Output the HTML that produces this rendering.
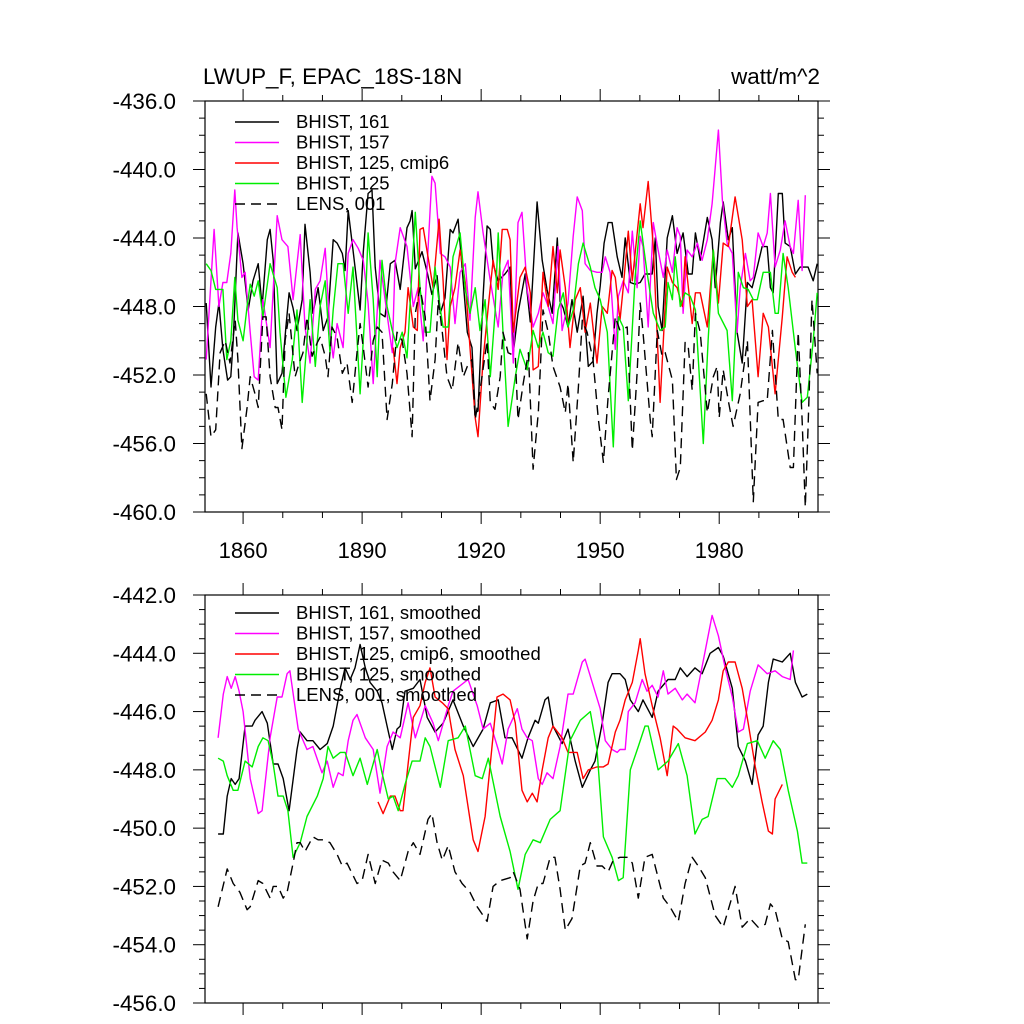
<!DOCTYPE html>
<html><head><meta charset="utf-8"><style>
body{margin:0;background:#fff}
svg{display:block;font-family:"Liberation Sans",sans-serif}
</style></head><body>
<svg id="chart" width="1024" height="1024" viewBox="0 0 1024 1024" xmlns="http://www.w3.org/2000/svg">
<text x="203" y="84" font-size="22.4">LWUP_F, EPAC_18S-18N</text>
<text x="820" y="84" font-size="22.4" text-anchor="end">watt/m^2</text>
<g id="p1"></g>
<g id="p2"></g>
</svg>
<script>
const xTickYears=[1860,1890,1920,1950,1980];
const topYTicks=[-436,-440,-444,-448,-452,-456,-460];
const botYTicks=[-442,-444,-446,-448,-450,-452,-454,-456];
const topLegend=["BHIST, 161","BHIST, 157","BHIST, 125, cmip6","BHIST, 125","LENS, 001"];
const botLegend=["BHIST, 161, smoothed","BHIST, 157, smoothed","BHIST, 125, cmip6, smoothed","BHIST, 125, smoothed","LENS, 001, smoothed"];
const blkTop=[[1850.7,-447.8],[1851.9,-452.7],[1853.1,-449.2],[1853.9,-447.8],[1854.9,-450.5],[1856.1,-452.3],[1856.9,-452.1],[1857.5,-450.0],[1858.7,-443.7],[1860.0,-445.5],[1861.3,-448.2],[1862.5,-446.5],[1863.8,-445.5],[1864.8,-448.0],[1866.1,-444.1],[1866.8,-443.5],[1867.6,-445.3],[1868.6,-452.5],[1869.8,-451.9],[1870.8,-449.2],[1871.6,-447.2],[1872.6,-448.1],[1873.6,-449.4],[1874.9,-447.6],[1875.6,-443.2],[1876.9,-446.0],[1877.6,-448.4],[1878.9,-446.9],[1880.2,-449.4],[1881.4,-448.6],[1882.7,-444.1],[1883.7,-444.3],[1885.0,-444.9],[1885.7,-445.9],[1886.5,-442.4],[1887.7,-444.7],[1889.5,-448.2],[1890.3,-444.8],[1891.5,-441.4],[1892.5,-441.2],[1893.3,-445.7],[1894.5,-448.4],[1895.8,-448.6],[1897.1,-445.5],[1898.3,-445.3],[1899.6,-447.0],[1901.3,-443.4],[1902.1,-443.0],[1902.6,-442.4],[1903.4,-445.8],[1905.1,-444.8],[1906.4,-446.0],[1907.6,-447.3],[1908.9,-446.2],[1909.7,-448.4],[1910.9,-447.5],[1912.2,-443.5],[1912.9,-443.7],[1914.2,-442.9],[1915.5,-446.6],[1916.5,-449.5],[1917.7,-450.4],[1918.5,-454.2],[1919.2,-454.1],[1920.5,-447.4],[1921.5,-443.3],[1922.3,-443.5],[1923.0,-445.5],[1924.3,-446.5],[1926.0,-446.1],[1927.3,-445.7],[1928.1,-450.7],[1929.3,-448.4],[1931.1,-446.1],[1932.4,-448.9],[1934.1,-441.9],[1935.4,-445.3],[1936.6,-447.0],[1937.9,-448.4],[1939.2,-444.0],[1939.9,-447.7],[1940.7,-448.1],[1941.9,-449.2],[1942.9,-447.6],[1944.2,-449.5],[1945.7,-447.4],[1947.0,-451.5],[1948.2,-451.2],[1949.2,-448.4],[1950.0,-446.8],[1951.0,-444.3],[1952.0,-443.1],[1953.0,-443.1],[1954.3,-445.1],[1955.5,-446.3],[1956.3,-444.0],[1957.6,-446.6],[1958.8,-446.7],[1960.1,-446.6],[1961.3,-446.1],[1963.1,-446.1],[1963.9,-444.0],[1964.6,-448.0],[1965.6,-449.4],[1966.9,-444.0],[1968.2,-442.7],[1969.4,-444.9],[1970.9,-443.7],[1972.2,-446.1],[1973.2,-446.1],[1974.0,-443.7],[1975.2,-445.3],[1977.0,-442.8],[1978.2,-444.1],[1979.0,-446.9],[1980.3,-443.1],[1981.0,-441.9],[1982.3,-444.1],[1983.3,-443.4],[1984.5,-449.5],[1985.8,-451.3],[1987.1,-446.6],[1988.3,-446.9],[1989.6,-445.7],[1990.8,-444.5],[1992.1,-444.5],[1992.9,-446.9],[1993.6,-447.2],[1994.9,-441.4],[1995.9,-441.4],[1996.6,-444.3],[1997.9,-444.5],[1999.2,-446.1],[2000.4,-445.7],[2002.4,-445.7],[2003.7,-446.5],[2004.7,-445.5]];
const magTop=[[1850.7,-451.1],[1852.7,-443.5],[1853.9,-448.0],[1854.9,-446.6],[1855.9,-446.6],[1856.9,-444.9],[1857.9,-441.2],[1858.5,-443.4],[1859.7,-446.3],[1860.5,-446.0],[1861.8,-449.5],[1862.8,-452.1],[1863.8,-452.3],[1865.0,-447.6],[1866.8,-450.4],[1868.6,-442.7],[1869.8,-444.1],[1871.3,-444.5],[1872.6,-447.6],[1874.4,-443.8],[1875.6,-449.2],[1876.9,-451.3],[1878.2,-447.0],[1879.4,-446.5],[1880.7,-444.6],[1881.9,-449.5],[1882.7,-451.0],[1883.7,-449.0],[1885.2,-450.4],[1886.5,-444.9],[1887.7,-444.1],[1889.0,-444.6],[1890.3,-445.3],[1891.5,-447.8],[1892.8,-452.5],[1894.5,-445.3],[1895.8,-447.6],[1897.6,-450.7],[1898.3,-445.5],[1899.6,-443.4],[1901.3,-444.5],[1902.9,-448.0],[1904.1,-446.9],[1905.4,-450.0],[1907.6,-440.4],[1908.4,-440.8],[1909.7,-444.9],[1910.9,-445.1],[1912.2,-445.7],[1913.4,-449.0],[1914.7,-446.0],[1916.0,-445.5],[1917.2,-448.8],[1918.5,-442.8],[1919.2,-441.3],[1920.5,-443.7],[1922.3,-446.5],[1924.3,-449.2],[1925.5,-446.0],[1926.8,-445.3],[1928.1,-451.3],[1929.3,-443.1],[1930.3,-442.5],[1931.6,-447.0],[1933.1,-449.2],[1934.4,-448.4],[1935.6,-447.2],[1936.9,-448.0],[1938.1,-449.0],[1939.4,-444.5],[1940.4,-449.4],[1941.9,-447.8],[1943.2,-443.9],[1944.2,-441.6],[1945.5,-442.4],[1946.2,-445.5],[1947.5,-445.9],[1949.2,-446.0],[1950.5,-446.0],[1951.3,-445.1],[1952.5,-446.0],[1953.8,-450.5],[1954.6,-447.4],[1955.8,-446.5],[1957.1,-447.2],[1958.1,-443.6],[1959.3,-446.9],[1960.1,-443.9],[1960.8,-444.5],[1962.1,-449.2],[1963.4,-443.1],[1964.6,-444.7],[1965.9,-446.3],[1966.9,-444.7],[1968.2,-446.0],[1969.4,-443.4],[1970.2,-443.9],[1970.9,-448.4],[1971.9,-444.7],[1973.2,-445.1],[1974.5,-444.3],[1975.7,-445.3],[1977.0,-444.1],[1978.2,-442.0],[1979.0,-439.9],[1979.8,-437.7],[1980.8,-441.8],[1982.0,-444.3],[1983.3,-444.9],[1984.5,-449.5],[1985.3,-446.9],[1986.6,-444.9],[1987.8,-446.5],[1988.6,-446.3],[1989.8,-443.7],[1991.1,-444.5],[1992.1,-443.7],[1992.9,-441.4],[1994.1,-445.7],[1995.4,-444.7],[1996.6,-443.0],[1997.9,-444.5],[1998.7,-444.9],[1999.9,-441.8],[2000.9,-445.9],[2001.7,-441.5]];
const redTop=[[1897.8,-450.4],[1898.8,-452.5],[1899.6,-450.4],[1900.8,-449.5],[1901.6,-446.9],[1902.9,-449.2],[1903.9,-449.4],[1904.6,-443.5],[1905.4,-443.4],[1906.6,-445.1],[1907.9,-446.9],[1909.4,-442.9],[1910.4,-446.5],[1911.4,-451.1],[1912.2,-448.0],[1913.4,-446.9],[1914.7,-444.7],[1916.0,-446.6],[1917.2,-450.4],[1918.5,-454.5],[1919.2,-455.6],[1920.5,-451.1],[1921.8,-448.0],[1923.0,-445.3],[1924.3,-447.0],[1925.3,-443.5],[1926.6,-443.5],[1927.3,-444.1],[1928.1,-449.5],[1929.8,-446.3],[1931.1,-445.7],[1932.4,-447.2],[1933.1,-451.7],[1934.4,-451.5],[1935.6,-446.0],[1936.9,-448.0],[1938.1,-444.5],[1939.2,-447.2],[1939.9,-444.7],[1941.2,-446.9],[1942.4,-450.4],[1943.7,-447.6],[1945.0,-446.9],[1946.2,-449.5],[1947.5,-447.8],[1949.2,-451.3],[1950.5,-448.0],[1951.8,-448.4],[1953.0,-445.9],[1953.8,-446.3],[1955.0,-448.8],[1955.8,-446.9],[1957.1,-443.6],[1958.1,-446.5],[1960.1,-442.0],[1960.8,-443.4],[1962.1,-440.7],[1963.4,-444.5],[1965.1,-453.6],[1966.9,-445.7],[1968.2,-446.6],[1969.4,-446.9],[1970.7,-448.0],[1971.4,-445.1],[1973.2,-449.0],[1974.0,-447.2],[1975.2,-447.2],[1977.0,-449.2],[1978.5,-444.7],[1979.8,-447.8],[1981.0,-444.3],[1982.3,-444.5],[1984.0,-441.6],[1985.8,-444.1],[1987.1,-448.0],[1988.3,-447.6],[1989.8,-452.1],[1991.1,-448.4],[1992.4,-449.2],[1994.1,-453.1],[1995.9,-448.6],[1997.1,-445.1],[1998.4,-446.0],[1999.2,-446.3]];
const grnTop=[[1850.7,-445.5],[1851.9,-445.9],[1853.1,-447.0],[1854.9,-447.0],[1855.9,-451.1],[1856.9,-450.0],[1857.9,-446.3],[1858.7,-448.8],[1860.0,-450.0],[1861.0,-448.0],[1861.8,-446.7],[1862.8,-447.4],[1863.8,-446.5],[1865.0,-448.6],[1866.8,-445.5],[1868.6,-446.9],[1869.3,-449.5],[1870.8,-453.3],[1872.4,-451.1],[1873.6,-448.2],[1874.9,-453.6],[1876.1,-450.0],[1876.9,-447.6],[1878.2,-451.5],[1879.4,-448.0],[1880.7,-446.5],[1881.9,-450.7],[1882.7,-448.2],[1883.9,-445.5],[1885.2,-445.5],[1886.5,-448.4],[1887.7,-445.7],[1889.5,-453.1],[1890.8,-448.0],[1891.5,-443.7],[1892.8,-447.6],[1893.8,-452.1],[1895.0,-445.3],[1896.3,-448.0],[1897.6,-449.4],[1898.8,-450.4],[1900.1,-449.5],[1901.3,-451.0],[1903.4,-442.5],[1904.6,-446.9],[1905.9,-449.5],[1907.1,-449.5],[1908.4,-445.7],[1909.2,-447.4],[1910.4,-449.2],[1911.7,-449.2],[1912.9,-445.1],[1914.7,-443.7],[1916.0,-447.0],[1917.2,-448.4],[1918.5,-446.9],[1919.7,-449.4],[1921.0,-447.6],[1922.3,-452.1],[1923.5,-448.4],[1924.3,-443.7],[1925.5,-449.5],[1926.8,-455.0],[1928.6,-452.1],[1929.8,-450.5],[1931.6,-451.7],[1933.1,-449.4],[1934.4,-450.4],[1935.6,-449.5],[1936.9,-450.7],[1938.1,-450.9],[1939.4,-448.2],[1940.7,-447.2],[1941.9,-449.2],[1943.2,-448.2],[1944.5,-445.5],[1945.7,-444.3],[1947.5,-445.7],[1948.7,-446.9],[1950.0,-447.6],[1951.8,-449.5],[1953.3,-456.2],[1954.6,-448.6],[1955.8,-449.2],[1957.1,-453.5],[1958.8,-446.3],[1960.1,-443.0],[1961.8,-446.0],[1963.4,-448.4],[1965.1,-449.4],[1966.4,-449.2],[1967.1,-446.6],[1968.2,-447.6],[1968.9,-445.1],[1970.2,-448.0],[1971.4,-447.2],[1972.7,-447.4],[1974.0,-448.2],[1976.0,-456.0],[1977.2,-450.0],[1978.5,-444.7],[1979.8,-448.4],[1982.0,-449.4],[1983.3,-453.5],[1984.8,-446.0],[1986.1,-446.9],[1987.3,-447.0],[1988.6,-447.6],[1989.6,-447.6],[1991.1,-446.0],[1992.9,-446.0],[1994.1,-448.4],[1994.9,-448.4],[1996.1,-444.9],[1997.4,-446.9],[1999.2,-450.5],[2000.9,-453.6],[2002.2,-453.3],[2003.7,-450.0],[2004.7,-447.2]];
const lensTop=[[1850.7,-453.1],[1851.9,-455.6],[1853.1,-455.2],[1854.2,-450.7],[1855.5,-450.0],[1856.7,-451.3],[1858.0,-448.8],[1858.7,-451.1],[1859.7,-456.3],[1861.0,-453.9],[1861.8,-452.1],[1863.0,-453.1],[1863.8,-453.9],[1865.0,-448.6],[1865.8,-448.6],[1866.8,-452.1],[1868.1,-453.9],[1868.8,-453.9],[1869.8,-455.2],[1870.6,-450.0],[1871.6,-448.4],[1873.1,-452.1],[1873.9,-451.5],[1875.1,-450.7],[1876.1,-448.6],[1877.4,-450.9],[1878.7,-450.1],[1879.4,-449.8],[1880.7,-450.9],[1881.4,-452.1],[1882.4,-449.2],[1883.7,-449.8],[1885.0,-451.9],[1886.2,-451.3],[1887.5,-453.6],[1888.7,-450.7],[1889.5,-449.0],[1890.3,-450.4],[1891.5,-452.7],[1892.8,-450.0],[1893.8,-449.2],[1895.0,-449.5],[1896.3,-454.6],[1897.6,-452.5],[1898.8,-449.5],[1900.1,-450.0],[1901.3,-451.9],[1902.6,-455.6],[1903.4,-448.4],[1904.6,-446.9],[1905.9,-448.6],[1907.1,-453.5],[1908.4,-451.1],[1909.2,-447.6],[1910.2,-449.5],[1911.4,-452.1],[1912.7,-452.9],[1914.2,-450.1],[1915.5,-452.1],[1916.5,-451.5],[1917.7,-451.1],[1918.5,-454.6],[1919.7,-452.9],[1921.5,-450.0],[1922.3,-453.6],[1923.5,-454.0],[1924.8,-452.1],[1925.5,-449.5],[1926.8,-450.7],[1928.6,-450.9],[1929.3,-454.6],[1930.6,-452.5],[1931.9,-450.7],[1933.1,-457.5],[1934.4,-454.2],[1935.6,-448.2],[1936.9,-449.5],[1938.1,-451.5],[1939.9,-452.7],[1941.2,-454.2],[1941.9,-452.5],[1943.2,-457.1],[1944.5,-452.7],[1945.5,-448.8],[1946.7,-449.5],[1948.2,-451.1],[1949.5,-454.5],[1950.8,-457.1],[1952.0,-453.3],[1953.8,-448.6],[1955.0,-449.4],[1956.8,-449.2],[1958.1,-456.4],[1959.3,-451.9],[1960.1,-447.8],[1960.8,-449.5],[1962.6,-454.6],[1963.1,-455.6],[1964.4,-449.4],[1965.6,-450.9],[1966.4,-450.7],[1968.2,-452.3],[1969.2,-458.1],[1970.2,-457.4],[1971.4,-450.1],[1972.2,-450.4],[1973.2,-452.9],[1974.0,-448.4],[1975.2,-449.5],[1977.0,-454.2],[1978.5,-452.1],[1979.5,-451.5],[1980.0,-454.5],[1981.0,-451.7],[1982.3,-453.5],[1983.5,-455.0],[1985.3,-453.1],[1987.1,-450.0],[1988.6,-459.4],[1989.8,-453.6],[1991.1,-453.5],[1992.1,-453.5],[1993.4,-449.4],[1994.9,-454.6],[1996.1,-454.6],[1997.9,-457.4],[1998.7,-457.4],[1999.9,-449.5],[2000.9,-454.6],[2001.7,-459.7],[2002.4,-455.0],[2003.4,-447.6],[2004.7,-451.9]];
const blkSm=[[1853.7,-450.2],[1855.0,-450.2],[1856.0,-448.9],[1857.0,-448.3],[1858.0,-448.5],[1859.0,-448.3],[1860.5,-446.5],[1862.3,-446.5],[1863.0,-446.3],[1864.8,-446.0],[1866.1,-446.4],[1867.6,-447.8],[1868.8,-447.8],[1870.1,-448.3],[1871.6,-449.4],[1873.6,-447.3],[1874.4,-446.7],[1876.1,-447.0],[1877.6,-447.0],[1879.4,-447.3],[1881.2,-447.1],[1882.7,-446.5],[1884.5,-445.2],[1885.7,-444.5],[1887.0,-444.9],[1888.2,-444.5],[1889.5,-443.7],[1890.8,-444.5],[1892.0,-445.0],[1893.8,-445.3],[1895.0,-445.7],[1896.3,-446.5],[1897.6,-447.3],[1898.8,-446.6],[1899.6,-446.5],[1900.8,-445.3],[1902.9,-445.2],[1904.6,-444.9],[1906.4,-446.2],[1908.4,-446.7],[1910.4,-446.4],[1912.9,-445.6],[1915.5,-446.5],[1918.0,-447.2],[1920.5,-446.6],[1922.3,-445.7],[1924.3,-445.6],[1926.0,-446.9],[1927.8,-446.9],[1930.3,-447.6],[1931.8,-446.9],[1933.6,-446.3],[1934.4,-446.4],[1936.1,-445.6],[1936.9,-445.5],[1938.1,-446.5],[1940.4,-447.1],[1941.9,-446.6],[1943.7,-447.7],[1945.5,-448.6],[1947.5,-448.0],[1948.7,-447.7],[1950.5,-446.4],[1952.0,-445.0],[1953.0,-444.7],[1955.0,-444.7],[1956.3,-444.9],[1957.6,-445.6],[1959.6,-446.0],[1960.8,-445.6],[1963.1,-446.2],[1964.6,-445.3],[1967.1,-444.9],[1968.9,-444.9],[1970.2,-444.5],[1971.9,-444.8],[1973.9,-444.5],[1975.7,-444.7],[1977.7,-444.0],[1979.8,-443.8],[1981.0,-444.1],[1983.3,-445.2],[1984.8,-447.2],[1986.6,-447.7],[1988.3,-448.5],[1989.8,-446.8],[1991.1,-446.5],[1992.4,-445.0],[1993.6,-444.2],[1995.9,-444.3],[1997.9,-444.0],[1999.2,-445.0],[2000.9,-445.5],[2002.2,-445.4]];
const magSm=[[1853.7,-446.9],[1855.0,-445.4],[1856.0,-444.8],[1857.0,-445.2],[1858.0,-444.8],[1859.0,-445.3],[1860.0,-446.0],[1861.8,-448.3],[1863.8,-449.5],[1864.8,-449.4],[1866.8,-446.9],[1868.6,-445.5],[1869.8,-445.5],[1871.1,-444.7],[1871.8,-444.6],[1873.9,-446.6],[1876.1,-447.3],[1877.6,-447.2],[1879.9,-448.1],[1881.2,-447.7],[1882.7,-448.6],[1884.0,-448.1],[1885.2,-448.2],[1886.5,-447.0],[1887.7,-446.3],[1888.7,-446.1],[1890.8,-446.9],[1892.8,-447.3],[1894.5,-448.8],[1896.3,-447.2],[1897.8,-446.7],[1899.6,-446.9],[1901.6,-445.7],[1903.4,-446.9],[1905.9,-445.8],[1907.9,-446.4],[1909.2,-447.0],[1911.7,-445.8],[1912.9,-445.3],[1916.7,-444.9],[1919.0,-445.8],[1920.5,-446.6],[1922.3,-446.4],[1924.3,-447.3],[1925.3,-447.8],[1926.8,-446.6],[1929.1,-445.9],[1930.3,-446.6],[1931.6,-446.9],[1932.9,-447.0],[1934.4,-448.3],[1935.4,-448.5],[1936.6,-448.1],[1938.1,-448.3],[1939.9,-447.2],[1941.9,-445.4],[1943.2,-445.4],[1945.5,-444.3],[1946.2,-444.2],[1948.0,-445.0],[1950.0,-445.9],[1951.3,-447.0],[1953.0,-447.3],[1954.3,-447.4],[1955.0,-447.3],[1956.3,-447.3],[1957.1,-446.0],[1958.8,-445.7],[1960.6,-444.9],[1961.8,-445.3],[1963.1,-445.1],[1964.6,-445.5],[1965.9,-444.6],[1967.1,-445.4],[1968.9,-445.2],[1970.7,-445.6],[1971.9,-445.4],[1973.9,-445.7],[1976.5,-443.9],[1978.2,-442.7],[1979.8,-443.4],[1981.5,-444.5],[1983.3,-445.5],[1984.8,-446.7],[1986.1,-446.6],[1987.8,-445.3],[1989.8,-444.4],[1992.1,-444.7],[1994.1,-444.6],[1995.9,-444.8],[1997.9,-444.9],[1998.7,-443.9]];
const redSm=[[1894.0,-449.1],[1895.3,-449.5],[1897.1,-448.9],[1898.3,-448.9],[1899.6,-449.4],[1900.3,-449.4],[1901.6,-447.8],[1902.9,-446.2],[1904.6,-445.8],[1905.9,-445.0],[1907.1,-444.5],[1908.4,-445.5],[1910.2,-445.7],[1911.7,-445.9],[1913.4,-447.3],[1915.5,-448.2],[1917.2,-449.7],[1918.0,-450.4],[1919.2,-450.8],[1921.0,-449.6],[1922.8,-447.1],[1924.0,-445.5],[1925.5,-445.4],[1927.3,-445.6],[1928.6,-446.4],[1930.3,-448.7],[1931.6,-449.1],[1932.9,-448.8],[1934.1,-449.1],[1935.4,-448.0],[1936.9,-446.9],[1938.1,-446.5],[1940.4,-446.9],[1941.9,-447.4],[1944.2,-447.4],[1945.7,-448.3],[1947.0,-448.0],[1949.2,-447.9],[1950.8,-447.9],[1952.0,-447.8],[1953.8,-446.7],[1955.0,-446.3],[1956.3,-445.6],[1958.1,-445.0],[1959.6,-443.9],[1960.1,-443.5],[1961.3,-444.7],[1963.1,-445.8],[1965.1,-446.9],[1966.9,-448.2],[1968.4,-446.5],[1969.4,-446.6],[1971.4,-446.9],[1973.9,-447.0],[1976.5,-446.7],[1978.2,-446.3],[1979.8,-445.6],[1981.0,-444.6],[1982.3,-444.3],[1984.0,-444.3],[1985.8,-445.2],[1987.3,-446.4],[1989.1,-447.9],[1990.8,-449.1],[1992.4,-450.1],[1993.4,-450.2],[1994.1,-449.0],[1995.9,-448.5]];
const grnSm=[[1853.7,-447.6],[1855.0,-447.7],[1856.0,-448.2],[1857.5,-448.7],[1858.7,-448.7],[1860.5,-447.7],[1862.3,-447.9],[1863.8,-447.2],[1865.0,-446.9],[1866.3,-447.0],[1867.6,-447.8],[1868.8,-448.9],[1870.1,-448.9],[1871.3,-449.4],[1872.6,-451.0],[1874.4,-450.5],[1876.1,-449.6],[1878.7,-448.9],[1880.2,-448.3],[1881.4,-447.2],[1882.7,-447.6],[1884.5,-447.4],[1885.7,-447.4],[1887.7,-448.2],[1889.5,-447.6],[1891.3,-448.5],[1893.8,-447.3],[1895.0,-448.1],[1896.6,-449.0],[1897.8,-448.9],[1899.1,-449.4],[1900.8,-448.5],[1902.6,-447.7],[1904.6,-447.7],[1905.9,-446.9],[1907.1,-447.2],[1909.7,-448.6],[1911.7,-447.0],[1914.2,-446.9],[1916.0,-446.5],[1918.5,-448.2],[1920.3,-448.3],[1921.8,-447.6],[1924.8,-449.6],[1927.3,-450.8],[1929.3,-452.1],[1931.1,-450.9],[1933.1,-450.4],[1934.9,-450.5],[1937.4,-449.7],[1939.9,-449.4],[1942.4,-447.0],[1945.0,-446.3],[1947.5,-446.0],[1949.2,-447.3],[1950.8,-450.3],[1953.0,-451.0],[1954.6,-451.8],[1955.8,-451.7],[1957.6,-448.0],[1959.6,-447.2],[1961.3,-446.5],[1962.1,-446.5],[1964.6,-448.0],[1967.1,-447.7],[1969.7,-447.1],[1971.9,-448.2],[1973.9,-450.2],[1975.7,-449.7],[1977.2,-449.6],[1979.5,-448.3],[1981.5,-448.3],[1983.3,-448.6],[1984.8,-448.2],[1987.1,-447.1],[1989.6,-447.0],[1991.6,-447.6],[1993.6,-447.0],[1995.4,-447.3],[1997.4,-448.7],[1999.7,-450.1],[2000.9,-451.2],[2002.2,-451.2]];
const lensSm=[[1853.7,-452.7],[1856.0,-451.4],[1857.5,-451.9],[1859.2,-452.2],[1861.0,-452.8],[1861.8,-452.7],[1863.8,-451.8],[1865.0,-451.9],[1866.8,-452.4],[1867.6,-452.0],[1868.8,-452.0],[1870.1,-452.4],[1871.1,-452.2],[1872.6,-451.2],[1873.6,-450.5],[1874.4,-450.5],[1875.6,-450.8],[1877.6,-450.3],[1878.9,-450.4],[1880.2,-450.4],[1881.9,-450.5],[1883.7,-450.9],[1885.0,-451.3],[1886.2,-451.2],[1888.7,-451.9],[1890.0,-451.8],[1891.5,-450.9],[1893.3,-451.9],[1895.0,-451.1],[1896.6,-451.2],[1897.8,-451.5],[1899.6,-451.8],[1901.6,-450.8],[1902.9,-450.5],[1904.6,-450.9],[1906.6,-449.7],[1907.6,-449.5],[1908.9,-450.5],[1910.2,-451.1],[1911.7,-450.6],[1913.4,-451.5],[1915.2,-451.9],[1917.2,-452.2],[1919.0,-452.7],[1921.5,-453.2],[1923.0,-452.0],[1924.8,-451.8],[1927.3,-451.7],[1928.1,-451.5],[1929.8,-452.1],[1931.6,-453.8],[1933.1,-452.5],[1934.4,-451.9],[1935.6,-451.9],[1937.4,-451.0],[1938.6,-451.0],[1939.9,-452.1],[1941.2,-453.5],[1942.9,-453.1],[1945.0,-451.3],[1946.2,-451.2],[1947.5,-450.5],[1949.2,-451.3],[1950.5,-451.3],[1952.0,-451.5],[1953.3,-451.1],[1955.0,-451.0],[1956.8,-451.0],[1958.1,-451.2],[1959.6,-452.4],[1961.3,-451.0],[1963.1,-450.9],[1964.6,-451.7],[1965.9,-452.4],[1967.6,-452.7],[1969.7,-453.2],[1971.4,-451.9],[1973.2,-451.0],[1974.7,-451.3],[1976.5,-451.7],[1979.0,-453.0],[1981.0,-453.4],[1982.3,-452.8],[1984.0,-452.0],[1985.8,-453.4],[1987.8,-453.1],[1989.8,-453.4],[1991.6,-453.3],[1992.9,-452.6],[1994.1,-452.8],[1995.9,-453.8],[1997.4,-453.9],[1999.2,-455.2],[1999.9,-455.2],[2001.7,-453.3]];

const NS='http://www.w3.org/2000/svg';
const X0=205,X1=818,yr0=1850.4,yr1=2004.9;
function xs(yr){return X0+(yr-yr0)/(yr1-yr0)*(X1-X0);}
function mk(tag,attrs,parent){const e=document.createElementNS(NS,tag);for(const k in attrs)e.setAttribute(k,attrs[k]);parent.appendChild(e);return e;}
const colors=['#000','#ff00ff','#ff0000','#00ee00','#000'];

function panel(g,top,bot,vmax,vmin,yTicks,minorStep,labelX,series,legend,legY){
  const ys=v=>top+(vmax-v)/(vmax-vmin)*(bot-top);
  const frame=mk('rect',{x:X0,y:top,width:X1-X0,height:bot-top,fill:'none',stroke:'#000','stroke-width':1.2},g);
  
  
  for(let v=vmax;v>=vmin-1e-6;v-=minorStep){
    const major=yTicks.some(t=>Math.abs(t-v)<1e-6);const L=major?12:6;
    mk('line',{x1:X0,x2:X0-L,y1:ys(v),y2:ys(v),stroke:'#000','stroke-width':1},g);
    mk('line',{x1:X1,x2:X1+L,y1:ys(v),y2:ys(v),stroke:'#000','stroke-width':1},g);
  }
  yTicks.forEach(v=>{
    const t=mk('text',{x:176,y:ys(v)+8,'font-size':22.4,'text-anchor':'end'},g);
    t.textContent=v.toFixed(1);
    
    
  });
  for(let yr=1860-10;yr<=2000;yr+=10){
    if(yr<yr0)continue;
    const major=xTickYears.includes(yr);const L=major?12:6;
    mk('line',{x1:xs(yr),x2:xs(yr),y1:bot,y2:bot+L,stroke:'#000','stroke-width':1},g);
    mk('line',{x1:xs(yr),x2:xs(yr),y1:top,y2:top-L,stroke:'#000','stroke-width':1},g);
  }
  if(labelX){xTickYears.forEach(yr=>{
    const t=mk('text',{x:xs(yr),y:bot+46,'font-size':22,'text-anchor':'middle'},g);
    t.textContent=yr;
    
    
  });}
  series.forEach((s,i)=>{
    const p=mk('polyline',{points:s.map(d=>xs(d[0]).toFixed(1)+','+ys(d[1]).toFixed(1)).join(' '),fill:'none',stroke:colors[i],'stroke-width':1.4,'stroke-linejoin':'round'},g);
    if(i===4)p.setAttribute('stroke-dasharray','10,6');
    
    
  });
  legend.forEach((txt,i)=>{
    const y=legY+i*20.5;
    const l=mk('line',{x1:235,x2:279,y1:y,y2:y,stroke:colors[i],'stroke-width':1.4},g);
    if(i===4)l.setAttribute('stroke-dasharray','10,6');
    
    
    const t=mk('text',{x:296,y:y+6,'font-size':18.5},g);
    t.textContent=txt;
    
    
  });
}
panel(document.getElementById('p1'),101,512,-436,-460,topYTicks,1,true,[blkTop,magTop,redTop,grnTop,lensTop],topLegend,122);
panel(document.getElementById('p2'),595,1003,-442,-456,botYTicks,0.5,false,[blkSm,magSm,redSm,grnSm,lensSm],botLegend,613);
</script>
</body></html>
